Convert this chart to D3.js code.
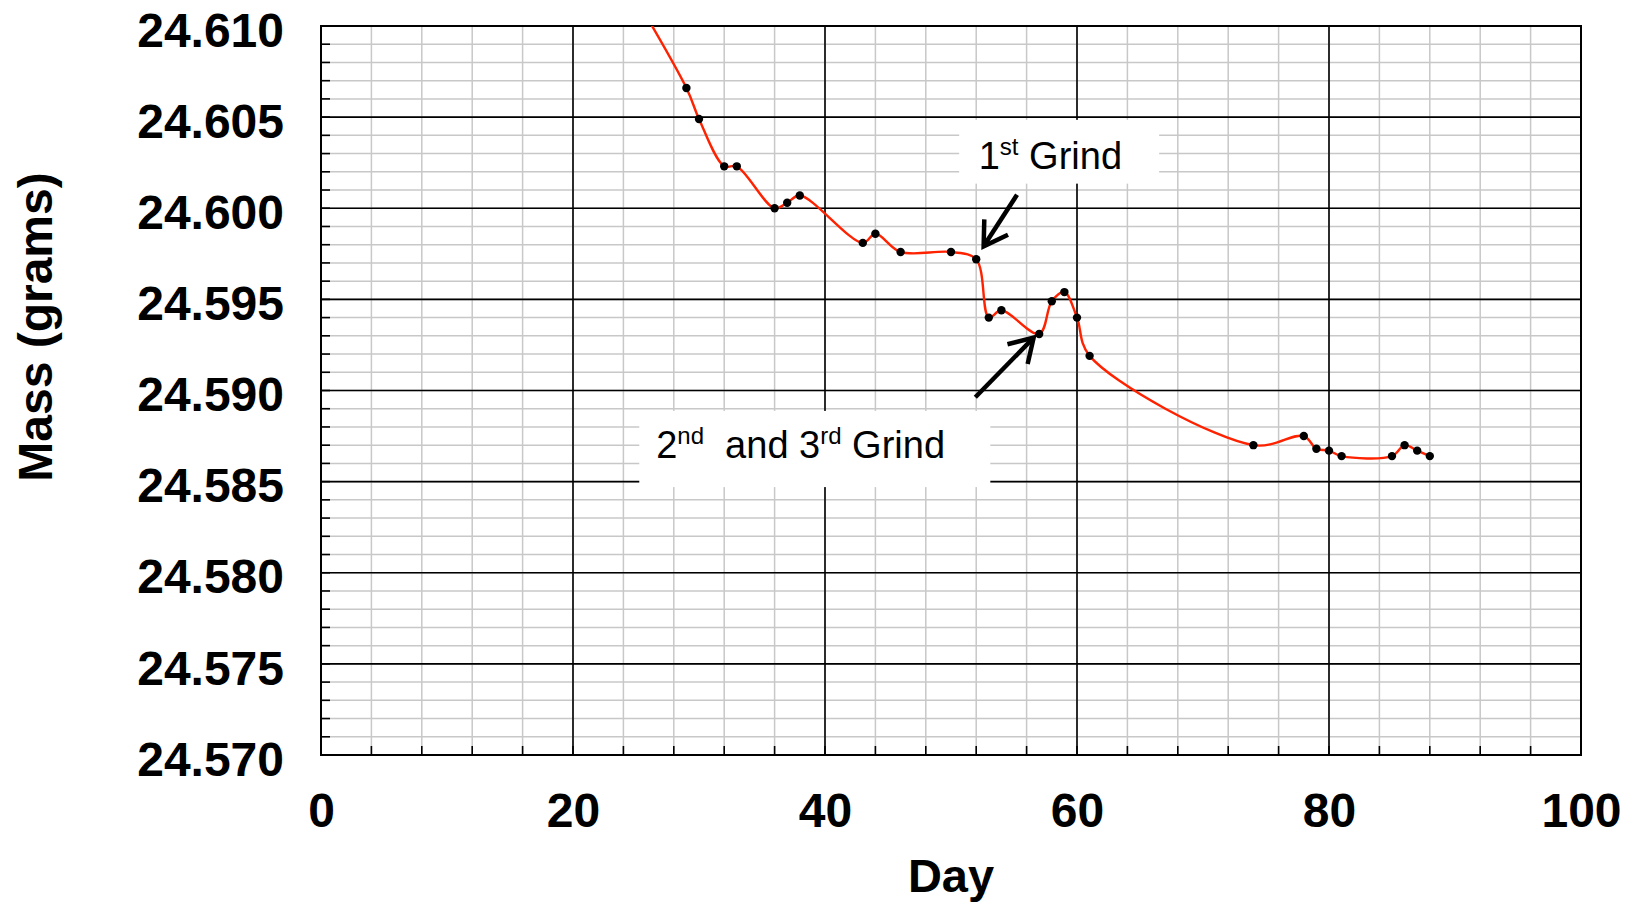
<!DOCTYPE html>
<html>
<head>
<meta charset="utf-8">
<script src="https://cdn.jsdelivr.net/npm/d3@7"></script>
<style>
  body { margin: 0; background: #fff; }
  svg { display: block; font-family: "Liberation Sans", Arial, Helvetica, sans-serif; }
</style>
</head>
<body>
<svg id="chart" width="1626" height="905"></svg>
<script>
// measured days and masses (first point lies above the plotted range)
const days = [22, 29, 30, 32, 33, 36, 37, 38, 43, 44, 46, 50, 52, 53, 54, 57, 58, 59, 60, 61,
  74, 78, 79, 80, 81, 85, 86, 87, 88];
const masses = [24.6150, 24.6066, 24.6049, 24.6023, 24.6023, 24.6000, 24.6003, 24.6007,
  24.5981, 24.5986, 24.5976, 24.5976, 24.5972, 24.5940, 24.5944, 24.5931, 24.5949, 24.5954,
  24.5940, 24.5919, 24.5870, 24.5875, 24.5868, 24.5867, 24.5864, 24.5864, 24.5870, 24.5867,
  24.5864];

const xTicks = [0, 20, 40, 60, 80, 100];
const yTicks = [24.570, 24.575, 24.580, 24.585, 24.590, 24.595, 24.600, 24.605, 24.610];

// annotation text, box and arrow, in data units
const notes = [
  { parts: [['1', 0], ['st', 1], [' Grind', 0]], x: 52.2, y: 24.60217,
    box: [50.65, 66.52, 24.60485, 24.60135],
    arrow: [55.24, 24.60074, 52.59, 24.59791] },
  { parts: [['2', 0], ['nd', 1], ['  and 3', 0], ['rd', 1], [' Grind', 0]], x: 26.6, y: 24.58627,
    box: [25.26, 53.12, 24.58888, 24.58470],
    arrow: [51.93, 24.58963, 56.56, 24.5929] },
];

const svg = d3.select('#chart');
const pL = 321, pR = 1581, pT = 26, pB = 755;

const x = d3.scaleLinear().domain([0, 100]).range([pL, pR]);
const y = d3.scaleLinear().domain([24.570, 24.610]).range([pB, pT]);

const xMinor = d3.range(0, 100.001, 4);
const yMinor = d3.range(0, 41).map(i => 24.570 + i * 0.001);

// minor grid
const grid = svg.append('g');
grid.append('g').selectAll('line').data(xMinor).join('line')
  .attr('x1', d => x(d)).attr('x2', d => x(d)).attr('y1', pT).attr('y2', pB)
  .attr('stroke', '#c8c8c8').attr('stroke-width', 1.5);
grid.append('g').selectAll('line').data(yMinor).join('line')
  .attr('x1', pL).attr('x2', pR).attr('y1', d => y(d)).attr('y2', d => y(d))
  .attr('stroke', '#c8c8c8').attr('stroke-width', 1.5);

// major grid
grid.append('g').selectAll('line').data(xTicks).join('line')
  .attr('x1', d => x(d)).attr('x2', d => x(d)).attr('y1', pT).attr('y2', pB)
  .attr('stroke', '#000').attr('stroke-width', 1.6);
grid.append('g').selectAll('line').data(yTicks).join('line')
  .attr('x1', pL).attr('x2', pR).attr('y1', d => y(d)).attr('y2', d => y(d))
  .attr('stroke', '#000').attr('stroke-width', 1.6);

// inward ticks
grid.append('g').selectAll('line').data(yMinor).join('line')
  .attr('x1', pL).attr('x2', pL + 9).attr('y1', d => y(d)).attr('y2', d => y(d))
  .attr('stroke', '#000').attr('stroke-width', 1.6);
grid.append('g').selectAll('line').data(xMinor).join('line')
  .attr('x1', d => x(d)).attr('x2', d => x(d)).attr('y1', pB).attr('y2', pB - 9)
  .attr('stroke', '#000').attr('stroke-width', 1.6);

svg.append('rect')
  .attr('x', pL).attr('y', pT).attr('width', pR - pL).attr('height', pB - pT)
  .attr('fill', 'none').attr('stroke', '#000').attr('stroke-width', 2);

// axes labels
const yAxis = svg.append('g').attr('transform', `translate(${pL},0)`)
  .call(d3.axisLeft(y).tickValues(yTicks).tickFormat(d3.format('.3f')).tickSize(0).tickPadding(37));
const xAxis = svg.append('g').attr('transform', `translate(0,${pB})`)
  .call(d3.axisBottom(x).tickValues(xTicks).tickSize(0).tickPadding(38));
[yAxis, xAxis].forEach(a => {
  a.select('.domain').remove();
  a.selectAll('text').attr('font-size', 48).attr('font-weight', 'bold')
    .attr('font-family', '"Liberation Sans", Arial, sans-serif').attr('fill', '#000');
});
yAxis.selectAll('text').attr('dy', '0.42em');

svg.append('text')
  .attr('x', (pL + pR) / 2).attr('y', 892)
  .attr('text-anchor', 'middle').attr('font-size', 47).attr('font-weight', 'bold')
  .text('Day');
svg.append('text')
  .attr('transform', 'translate(52,327) rotate(-90)')
  .attr('text-anchor', 'middle').attr('font-size', 48).attr('font-weight', 'bold')
  .text('Mass (grams)');

// annotations
notes.forEach(n => {
  const [x0, x1, y0, y1] = n.box;
  svg.append('rect')
    .attr('x', x(x0)).attr('y', y(y0)).attr('width', x(x1) - x(x0)).attr('height', y(y1) - y(y0))
    .attr('fill', '#fff');
  const t = svg.append('text').attr('x', x(n.x)).attr('y', y(n.y))
    .attr('font-size', 38).style('white-space', 'pre');
  let raised = false;
  n.parts.forEach(([s, sup]) => {
    const ts = t.append('tspan').text(s);
    if (sup && !raised) { ts.attr('font-size', 24).attr('dy', -14); raised = true; }
    else if (!sup && raised) { ts.attr('dy', 14); raised = false; }
  });

  const [ax, ay, bx, by] = n.arrow;
  const p0 = [x(ax), y(ay)], p1 = [x(bx), y(by)];
  const ang = Math.atan2(p0[1] - p1[1], p0[0] - p1[0]);
  const len = 27, spread = 0.55;
  const a1 = [p1[0] + len * Math.cos(ang + spread), p1[1] + len * Math.sin(ang + spread)];
  const a2 = [p1[0] + len * Math.cos(ang - spread), p1[1] + len * Math.sin(ang - spread)];
  svg.append('line').attr('x1', p0[0]).attr('y1', p0[1]).attr('x2', p1[0]).attr('y2', p1[1])
    .attr('stroke', '#000').attr('stroke-width', 4.5);
  svg.append('path').attr('d', d3.line()([a1, p1, a2]))
    .attr('fill', 'none').attr('stroke', '#000').attr('stroke-width', 4.5);
});

// data line and points
svg.append('clipPath').attr('id', 'plot').append('rect')
  .attr('x', pL).attr('y', pT).attr('width', pR - pL).attr('height', pB - pT);

const pts = days.map((d, i) => [d, masses[i]]);
const line = d3.line().x(d => x(d[0])).y(d => y(d[1])).curve(d3.curveCatmullRom.alpha(0.5));

svg.append('path').datum(pts)
  .attr('clip-path', 'url(#plot)')
  .attr('d', line).attr('fill', 'none').attr('stroke', '#ff2200').attr('stroke-width', 2.4);

svg.append('g').attr('clip-path', 'url(#plot)')
  .selectAll('circle').data(pts).join('circle')
  .attr('cx', d => x(d[0])).attr('cy', d => y(d[1])).attr('r', 4.2).attr('fill', '#000');
</script>
</body>
</html>
